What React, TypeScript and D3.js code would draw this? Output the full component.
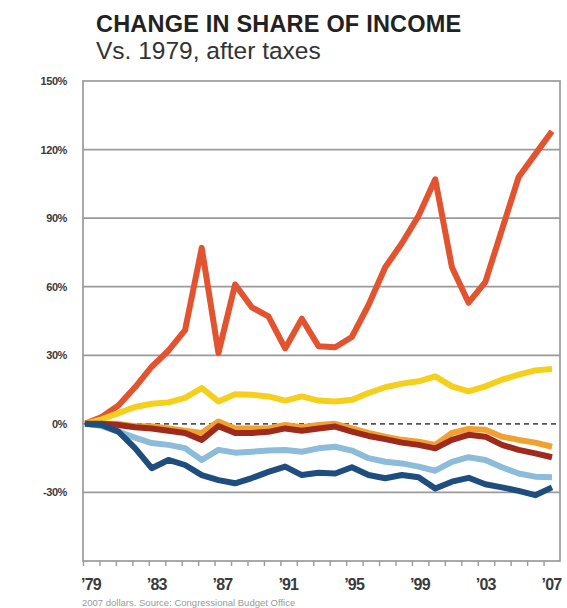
import * as d3 from "d3";
import { useEffect, useRef } from "react";

/* ------------------------------------------------------------------ */
/*  Data (% change vs. 1979, after taxes)      */
/* ------------------------------------------------------------------ */

const YEARS = d3.range(1979, 2008);

const TOP_1 = [
  0, 3, 8, 16, 25, 32, 41, 77, 31, 61, 51, 47, 33, 46, 34, 33.5, 38, 52, 68.5,
  79, 91, 107, 68.5, 53, 62, 85, 108, 118, 128,
];
const NEXT_19 = [
  0, 2, 4.7, 7.4, 8.8, 9.4, 11.4, 15.7, 9.8, 13, 12.7, 12, 10.2, 12, 10.2, 9.8,
  10.5, 13.5, 16, 17.6, 18.6, 20.8, 16.4, 14.2, 16.4, 19.3, 21.5, 23.4, 24,
];
const FOURTH = [
  0, 0, 0, -1, -1, -2, -3, -4, 1, -2, -2, -2, -0.5, -1.5, -0.5, 0, -2, -4, -5.6,
  -7, -7.8, -9.2, -4, -2.2, -2.6, -5.6, -7, -8.2, -10,
];
const MIDDLE = [
  0, 0, -0.5, -1.5, -2, -3, -4, -7, -1, -4, -4, -3.5, -2, -3, -2, -1.2, -3.4,
  -5.3, -6.7, -8.2, -9.2, -10.7, -7, -4.8, -5.6, -9.2, -11.4, -12.9, -14.6,
];
const SECOND = [
  0, -1, -3.4, -6, -8.4, -9.2, -10.6, -15.8, -11.4, -12.6, -12.2, -11.7, -11.4,
  -12.2, -10.7, -10, -11.7, -15, -16.6, -17.3, -18.7, -20.5, -16.6, -14.6,
  -15.8, -19, -21.7, -23.1, -23.4,
];
const LOWEST = [
  0, -0.5, -3.4, -10.6, -19.4, -15.8, -18, -22.4, -24.6, -26, -23.7, -21,
  -18.7, -22.4, -21.4, -21.7, -19, -22.4, -23.8, -22.4, -23.4, -28.3, -25.3,
  -23.6, -26.4, -27.8, -29.3, -31.2, -27.8,
];

const Y_TICKS = [150, 120, 90, 60, 30, 0, -30];
const GRID_TICKS = [120, 90, 60, 30, -30];
const X_LABEL_YEARS = [1979, 1983, 1987, 1991, 1995, 1999, 2003, 2007];

/* ------------------------------------------------------------------ */
/*  Theme tokens                                                       */
/* ------------------------------------------------------------------ */

const W = 567;
const H = 608;
const FRAME = "#9a9a9a";
const LABEL = "#3a3a3a";
const FONT = "'Liberation Sans', Arial, sans-serif";

// drawn in this order, last on top
const SERIES = [
  { key: "top1", values: TOP_1, color: "#e2532f" },
  { key: "next19", values: NEXT_19, color: "#f4d01c" },
  { key: "fourth", values: FOURTH, color: "#f1a130" },
  { key: "middle", values: MIDDLE, color: "#9e2a1b" },
  { key: "second", values: SECOND, color: "#8dbbda" },
  { key: "lowest", values: LOWEST, color: "#1f4e7e" },
];

export default function App() {
  const svgRef = useRef<SVGSVGElement>(null);

  useEffect(() => {
    const svg = svgRef.current;
    if (!svg) return;

    const left = 83;
    const right = 560;
    const top = 81;
    const bottom = 561;

    /* Scales */
    // data points run a touch wider than the printed tick marks
    const x = d3.scaleLinear().domain([1979, 2007]).range([85, 552]);
    const xTicks = d3.scaleLinear().domain([1979, 2008]).range([left, right]);
    const y = d3.scaleLinear().domain([-60, 150]).range([bottom, top]);

    const sel = d3.select(svg);
    sel.selectAll("*").remove();

    /* Titles */
    sel
      .append("text")
      .attr("x", 96)
      .attr("y", 32)
      .attr("font-family", FONT)
      .attr("font-weight", 700)
      .attr("font-size", 23.5)
      .attr("letter-spacing", 0.2)
      .attr("fill", "#222")
      .text("CHANGE IN SHARE OF INCOME");

    sel
      .append("text")
      .attr("x", 96)
      .attr("y", 59)
      .attr("font-family", FONT)
      .attr("font-size", 24.5)
      .attr("fill", "#333")
      .text("Vs. 1979, after taxes");

    /* Gridlines */
    sel
      .append("g")
      .selectAll("line")
      .data(GRID_TICKS)
      .join("line")
      .attr("x1", left)
      .attr("x2", right)
      .attr("y1", (d) => y(d))
      .attr("y2", (d) => y(d))
      .attr("stroke", FRAME)
      .attr("stroke-width", 1.7);

    /* Zero line */
    sel
      .append("line")
      .attr("x1", left)
      .attr("x2", right)
      .attr("y1", y(0))
      .attr("y2", y(0))
      .attr("stroke", "#555")
      .attr("stroke-width", 1.6)
      .attr("stroke-dasharray", "5 4");

    /* Frame */
    sel
      .append("rect")
      .attr("x", left)
      .attr("y", top)
      .attr("width", right - left)
      .attr("height", bottom - top)
      .attr("fill", "none")
      .attr("stroke", FRAME)
      .attr("stroke-width", 1.7);

    /* Y labels */
    sel
      .append("g")
      .selectAll("text")
      .data(Y_TICKS)
      .join("text")
      .attr("x", 67)
      .attr("y", (d) => y(d) + 4)
      .attr("text-anchor", "end")
      .attr("font-family", FONT)
      .attr("font-weight", 700)
      .attr("font-size", 11)
      .attr("letter-spacing", -0.4)
      .attr("fill", LABEL)
      .text((d) => `${d}%`);

    /* X axis ticks */
    const xAxis = d3
      .axisBottom(xTicks)
      .tickValues(YEARS)
      .tickSize(5)
      .tickFormat(() => "");

    sel
      .append("g")
      .attr("transform", `translate(0,${bottom})`)
      .call(xAxis)
      .call((g) => g.select(".domain").remove())
      .call((g) =>
        g.selectAll(".tick line").attr("stroke", FRAME).attr("stroke-width", 1.4),
      );

    /* X labels */
    sel
      .append("g")
      .selectAll("text")
      .data(X_LABEL_YEARS)
      .join("text")
      .attr("x", (d) => xTicks(d) - 2)
      .attr("y", 590)
      .attr("font-family", FONT)
      .attr("font-weight", 700)
      .attr("font-size", 16)
      .attr("letter-spacing", -0.8)
      .attr("fill", LABEL)
      .text((d) => `\u2019${String(d).slice(2)}`);

    /* Footnote */
    sel
      .append("text")
      .attr("x", 82)
      .attr("y", 606)
      .attr("font-family", FONT)
      .attr("font-size", 9.5)
      .attr("fill", "#999")
      .text("2007 dollars. Source: Congressional Budget Office");

    /* Lines */
    const line = d3
      .line<number>()
      .x((_, i) => x(YEARS[i]))
      .y((d) => y(d));

    sel
      .append("g")
      .selectAll("path")
      .data(SERIES)
      .join("path")
      .attr("d", (d) => line(d.values))
      .attr("fill", "none")
      .attr("stroke", (d) => d.color)
      .attr("stroke-width", 6)
      .attr("stroke-linejoin", "round")
      .attr("stroke-linecap", "butt");
  }, []);

  return (
    <svg
      ref={svgRef}
      width={W}
      height={H}
      style={{ position: "absolute", left: 0, top: 0, background: "#fff" }}
    />
  );
}
